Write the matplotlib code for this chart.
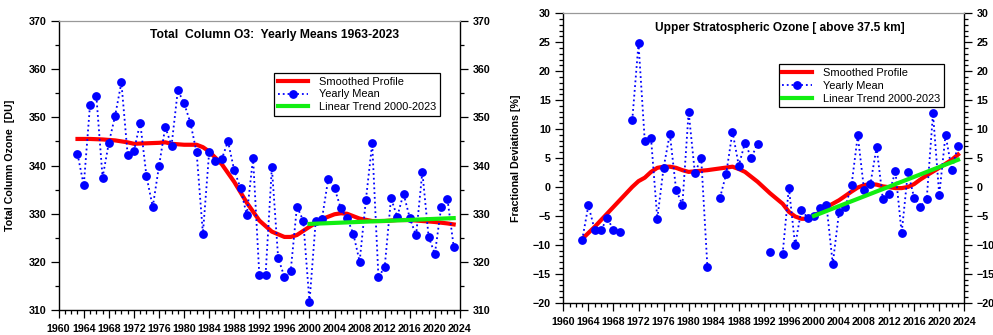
import numpy as np
import matplotlib
matplotlib.use('Agg')
import matplotlib.pyplot as plt
from matplotlib.ticker import MultipleLocator

plt.rcParams['font.family'] = ['Liberation Sans', 'DejaVu Sans']

years = list(range(1963, 2024))

# total column ozone, yearly means [DU]
tco = [342.4, 335.9, 352.6, 354.5, 337.5, 344.7, 350.3, 357.2, 342.2, 343.0,
       348.9, 337.8, 331.4, 339.9, 348.0, 344.1, 355.6, 352.9, 348.9, 342.7,
       325.9, 342.8, 341.0, 341.3, 345.0, 339.0, 335.3, 329.7, 341.6, 317.3,
       317.4, 339.6, 320.9, 316.9, 318.1, 331.5, 328.6, 311.7, 328.6, 329.0,
       337.3, 335.3, 331.1, 329.1, 325.8, 320.1, 332.9, 344.6, 316.8, 319.0,
       333.2, 329.4, 334.2, 329.1, 325.5, 338.7, 325.2, 321.7, 331.3, 333.1,
       323.2]
tco_smooth_yr = [1963, 1965, 1967, 1969, 1971, 1972, 1974, 1976, 1977, 1978,
                 1980, 1982, 1983, 1984, 1986, 1988, 1990, 1992, 1994, 1996,
                 1997, 1998, 2000, 2002, 2004, 2005, 2006, 2008, 2010, 2012,
                 2014, 2016, 2018, 2020, 2022, 2023]
tco_smooth = [345.5, 345.5, 345.4, 345.2, 344.8, 344.5, 344.6, 344.7, 344.8, 344.5,
              344.3, 344.3, 343.8, 342.9, 340.3, 336.6, 332.3, 328.6, 326.3, 325.2,
              325.2, 325.6, 327.3, 328.9, 329.9, 330.1, 330.0, 329.0, 328.5, 328.5,
              328.7, 328.7, 328.5, 328.3, 328.0, 327.8]
tco_trend_yr = [2000, 2023]
tco_trend = [327.9, 329.1]

# upper stratospheric ozone, fractional deviations [%] (nan = no data)
nan = np.nan
uso = [-9.2, -3.2, -7.4, -7.5, -5.4, -7.4, -7.7, nan, 11.5, 24.8,
       7.9, 8.4, -5.5, 3.3, 9.2, -0.5, -3.1, 13.0, 2.35, 5.06,
       -13.9, nan, -1.9, 2.3, 9.55, 3.7, 7.65, 5.0, 7.5, nan,
       -11.3, nan, -11.6, -0.1, -10.1, -3.9, -5.4, -5.0, -3.7, -3.1,
       -13.3, -4.4, -3.5, 0.3, 8.9, -0.5, 0.45, 6.85, -2.1, -1.2,
       2.75, -8.0, 2.6, -1.9, -3.4, -2.1, 12.7, -1.4, 9.0, 3.0,
       7.1]
uso_smooth_yr = [1963, 1965, 1967, 1969, 1971, 1972, 1973, 1974, 1975, 1976,
                 1977, 1978, 1979, 1980, 1981, 1983, 1985, 1987, 1988, 1989,
                 1991, 1993, 1995, 1996, 1997, 1998, 1999, 2000, 2002, 2004,
                 2006, 2007, 2008, 2009, 2010, 2011, 2013, 2014, 2015, 2016,
                 2017, 2018, 2020, 2022, 2023]
uso_smooth = [-9.0, -6.9, -4.6, -2.3, 0.0, 1.0, 1.6, 2.6, 3.3, 3.5,
              3.5, 3.3, 2.9, 2.6, 2.7, 2.9, 3.2, 3.5, 3.1, 2.6,
              0.9, -1.1, -2.9, -4.3, -5.1, -5.5, -5.5, -5.1, -3.5, -2.3,
              -0.8, -0.1, 0.3, 0.5, 0.4, 0.1, -0.2, -0.2, 0.0, 0.5,
              1.3, 2.0, 3.3, 4.7, 5.6]
uso_trend_yr = [2000, 2023]
uso_trend = [-5.0, 4.7]

RED = '#ff0000'
BLUE = '#0000ff'
GREEN = '#11ee11'
fs = 7.7

fig = plt.figure(figsize=(9.93, 3.35), dpi=100)
ax1 = fig.add_axes([0.0591, 0.0737, 0.4041, 0.8645])
ax2 = fig.add_axes([0.5673, 0.0964, 0.4038, 0.8639])


def style(ax, ylo, yhi, ymaj, ymin):
    ax.set_xlim(1960, 2024)
    ax.set_ylim(ylo, yhi)
    ax.xaxis.set_major_locator(MultipleLocator(4))
    ax.xaxis.set_minor_locator(MultipleLocator(1))
    ax.yaxis.set_major_locator(MultipleLocator(ymaj))
    ax.yaxis.set_minor_locator(MultipleLocator(ymin))
    ax.tick_params(which='both', direction='out', top=False, right=True,
                   labelright=True, width=0.9, color='black')
    ax.tick_params(which='major', length=6, labelsize=fs, pad=3)
    ax.tick_params(which='minor', length=3.2)
    ax.tick_params(axis='x', which='major', pad=4)
    for lab in ax.get_xticklabels() + ax.get_yticklabels():
        lab.set_fontweight('bold')
    for lab in ax.yaxis.get_ticklabels(which='major'):
        lab.set_fontweight('bold')
    for s in ['left', 'right', 'bottom']:
        ax.spines[s].set_linewidth(1.0)
    ax.spines['top'].set_color('#999999')
    ax.spines['top'].set_linewidth(0.9)


def draw(ax, vals, sy, sv, ty, tv):
    ax.plot(sy, sv, color=RED, lw=3, label='Smoothed Profile', zorder=3)
    ax.plot(years, vals, color=BLUE, ls=':', lw=1.3, marker='o', ms=5.3,
            label='Yearly Mean', zorder=4)
    ax.plot(ty, tv, color=GREEN, lw=3, label='Linear Trend 2000-2023', zorder=5)


draw(ax1, tco, tco_smooth_yr, tco_smooth, tco_trend_yr, tco_trend)
style(ax1, 310, 370, 10, 5)
ax1.set_ylabel('Total Column Ozone  [DU]', fontsize=fs, fontweight='bold')
ax1.yaxis.set_label_coords(-0.109, 0.5)
ax1.text(0.2275, 0.9506, 'Total  Column O3:  Yearly Means 1963-2023',
         transform=ax1.transAxes, fontsize=8.7, fontweight='bold', va='center')
ax1.legend(loc='upper left', bbox_to_anchor=(0.537, 0.82), borderaxespad=0,
           fontsize=7.9, frameon=True, fancybox=False, edgecolor='black',
           framealpha=1, handlelength=2.7, handletextpad=1.0, labelspacing=0.25,
           borderpad=0.35).get_frame().set_linewidth(0.9)

draw(ax2, uso, uso_smooth_yr, uso_smooth, uso_trend_yr, uso_trend)
style(ax2, -20, 30, 5, 1)
ax2.set_ylabel('Fractional Deviations [%]', fontsize=fs, fontweight='bold')
ax2.yaxis.set_label_coords(-0.106, 0.5)
ax2.text(0.2287, 0.949, 'Upper Stratospheric Ozone [ above 37.5 km]',
         transform=ax2.transAxes, fontsize=8.6, fontweight='bold', va='center')
ax2.legend(loc='upper left', bbox_to_anchor=(0.537, 0.824), borderaxespad=0,
           fontsize=7.9, frameon=True, fancybox=False, edgecolor='black',
           framealpha=1, handlelength=2.7, handletextpad=1.0, labelspacing=0.25,
           borderpad=0.35).get_frame().set_linewidth(0.9)

fig.savefig('out.png', dpi=100)
